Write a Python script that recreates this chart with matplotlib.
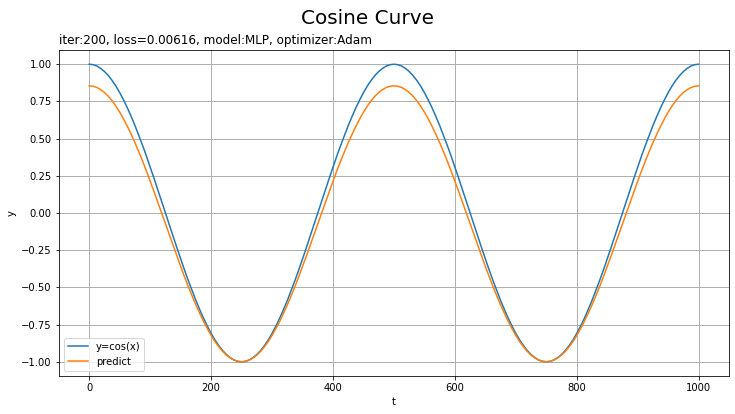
import matplotlib
matplotlib.use("Agg")
import matplotlib.pyplot as plt

# 그림에서 읽은 값 (t 간격 6.25, 반주기 0..250)
T_STEP = 6.25
half_true = [1.000, 0.997, 0.988, 0.972, 0.951, 0.924, 0.891, 0.853, 0.809, 0.760,
             0.707, 0.649, 0.588, 0.522, 0.454, 0.383, 0.309, 0.233, 0.156, 0.078,
             0.000, -0.078, -0.156, -0.233, -0.309, -0.383, -0.454, -0.522, -0.588, -0.649,
             -0.707, -0.760, -0.809, -0.853, -0.891, -0.924, -0.951, -0.972, -0.988, -0.997,
             -1.000]
half_pred = [0.855, 0.852, 0.844, 0.829, 0.810, 0.785, 0.754, 0.719, 0.678, 0.632,
             0.583, 0.529, 0.473, 0.412, 0.349, 0.283, 0.214, 0.144, 0.072, 0.000,
             -0.073, -0.145, -0.217, -0.289, -0.359, -0.428, -0.494, -0.557, -0.618, -0.674,
             -0.728, -0.777, -0.823, -0.864, -0.899, -0.930, -0.955, -0.974, -0.989, -0.997,
             -1.000]

# 한 주기(0..500) = 내려갔다 올라옴, 두 주기 반복
period_true = half_true + half_true[-2::-1]
period_pred = half_pred + half_pred[-2::-1]
y_true = period_true + period_true[1:]
y_pred = period_pred + period_pred[1:]
t = [i * T_STEP for i in range(len(y_true))]

fig = plt.figure(figsize=(735 / 72, 414 / 72), dpi=72)
ax = fig.add_axes([0.080, 0.092, 0.912, 0.787])
ax.plot(t, y_true, color="#1f77b4", linewidth=1.5, label="y=cos(x)")
ax.plot(t, y_pred, color="#ff7f0e", linewidth=1.5, label="predict")
ax.set_xlim(-50, 1050)
ax.set_ylim(-1.095, 1.095)
ax.set_xlabel("t", fontsize=10)
ax.set_ylabel("y", fontsize=10)
ax.tick_params(labelsize=10)
ax.grid(color="#b0b0b0", linewidth=1.0)
ax.legend(loc="lower left", fontsize=10)
ax.set_title("iter:200, loss=0.00616, model:MLP, optimizer:Adam", loc="left", fontsize=12)
fig.suptitle("Cosine Curve", fontsize=20, y=0.978)
fig.savefig("out.png", dpi=72)
